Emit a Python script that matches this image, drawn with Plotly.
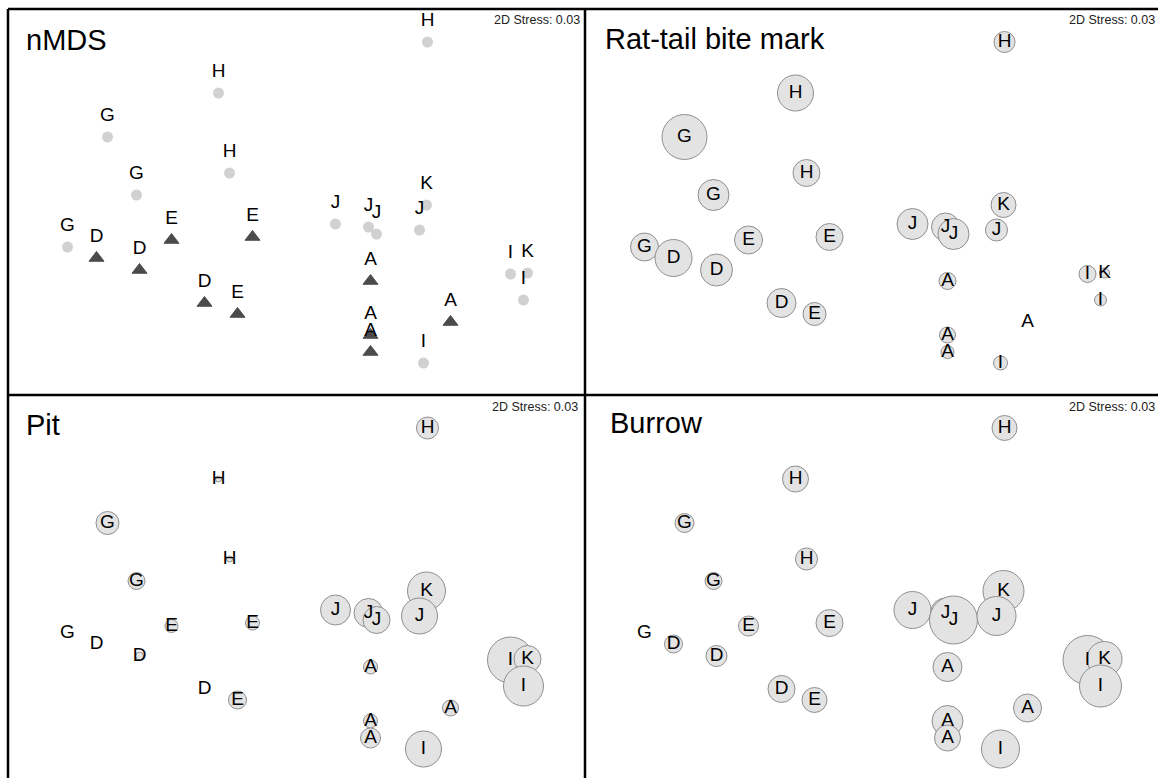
import plotly.graph_objects as go

# nMDS ordination of the 25 sampling units (shared by all four panels)
samples = ["H", "H", "G", "H", "G", "G", "D", "D", "E", "E", "D", "E",
           "J", "J", "J", "K", "J", "A", "A", "A", "A", "I", "I", "K", "I"]
nmds1 = [1.31, -0.78, -1.89, -0.67, -1.60, -2.29, -2.00, -1.57, -1.25, -0.44,
         -0.92, -0.59, 0.39, 0.72, 0.80, 1.30, 1.23, 0.74, 0.74, 0.74, 1.54,
         1.27, 2.14, 2.31, 2.27]
nmds2 = [1.60, 1.09, 0.65, 0.29, 0.07, -0.45, -0.56, -0.68, -0.38, -0.35,
         -1.01, -1.12, -0.22, -0.25, -0.32, -0.03, -0.28, -0.79, -1.33, -1.50,
         -1.20, -1.61, -0.72, -0.71, -0.98]

# groups plotted with solid triangles in the plain ordination
triangle_groups = ["A", "D", "E"]

# bubble overlays: relative abundance of each bioturbation trace
rat_tail = [2.1, 3.6, 4.5, 2.7, 3.1, 2.8, 3.7, 3.2, 2.8, 2.7, 2.9, 2.3,
            3.1, 2.8, 3.1, 2.5, 2.2, 1.7, 1.6, 1.3, 0.0, 1.4, 1.7, 1.0, 1.2]
pit = [2.2, 0.6, 2.3, 0.6, 1.7, 0.0, 0.0, 0.8, 1.3, 1.4, 0.0, 1.8,
       3.0, 2.9, 2.7, 3.8, 3.6, 1.4, 1.4, 2.0, 1.6, 3.6, 4.6, 2.7, 4.0]
burrow = [2.5, 2.6, 1.9, 2.2, 1.7, 0.0, 1.8, 2.1, 2.0, 2.7, 2.7, 2.5,
          3.7, 3.0, 4.8, 4.1, 3.9, 2.9, 3.1, 2.6, 2.8, 3.8, 4.9, 3.5, 4.2]

panel_titles = ["nMDS", "Rat-tail bite mark", "Pit", "Burrow"]
stress_text = "2D Stress: 0.03"

W, H = 1158, 778
FONT = "Liberation Sans, Arial, sans-serif"
BUBBLE_SCALE = 10  # px of diameter per abundance unit

# panel frame edges in pixels
x_left, x_mid = 8, 585
y_top, y_mid = 9, 395
px_per_unit = 100.0
panel_w, panel_h = 577, 386

fig = go.Figure()


def px_x(p):
    return p / W


def px_y(p):
    return 1 - p / H


# axis ranges that keep the same scale in every panel
x_full = [-panel_w / 2 / px_per_unit, panel_w / 2 / px_per_unit]
x_cut = [x_full[0], x_full[0] + (W - x_mid) / px_per_unit]
y_full = [-panel_h / 2 / px_per_unit, panel_h / 2 / px_per_unit]
y_cut = [y_full[1] - (H - y_mid) / px_per_unit, y_full[1]]

panels = [
    dict(xd=[px_x(x_left), px_x(x_mid)], yd=[px_y(y_mid), px_y(y_top)], xr=x_full, yr=y_full),
    dict(xd=[px_x(x_mid), 1.0], yd=[px_y(y_mid), px_y(y_top)], xr=x_cut, yr=y_full),
    dict(xd=[px_x(x_left), px_x(x_mid)], yd=[0.0, px_y(y_mid)], xr=x_full, yr=y_cut),
    dict(xd=[px_x(x_mid), 1.0], yd=[0.0, px_y(y_mid)], xr=x_cut, yr=y_cut),
]

axis_style = dict(showgrid=False, zeroline=False, showticklabels=False,
                  ticks="", showline=False, fixedrange=True)

for i, p in enumerate(panels):
    n = "" if i == 0 else str(i + 1)
    fig.layout["xaxis" + n] = dict(domain=p["xd"], range=p["xr"],
                                   anchor="y" + n, **axis_style)
    fig.layout["yaxis" + n] = dict(domain=p["yd"], range=p["yr"],
                                   anchor="x" + n, **axis_style)

# panel 1: plain ordination symbols
symbols = ["triangle-up" if s in triangle_groups else "circle" for s in samples]
colors = ["black" if s in triangle_groups else "#bdbdbd" for s in samples]
sizes = [13 if s in triangle_groups else 11 for s in samples]
line_w = [1 if s in triangle_groups else 0 for s in samples]
fig.add_trace(go.Scatter(
    x=nmds1, y=nmds2, mode="markers",
    marker=dict(symbol=symbols, color=colors, size=sizes,
                line=dict(width=line_w, color="black")),
    xaxis="x", yaxis="y", showlegend=False, hoverinfo="skip", cliponaxis=False,
))
# sample labels set just above each symbol (clear spacer marker sets the gap)
fig.add_trace(go.Scatter(
    x=nmds1, y=nmds2, mode="markers+text", text=samples,
    textposition="top center",
    textfont=dict(family=FONT, size=19, color="black"),
    marker=dict(size=16, opacity=0),
    xaxis="x", yaxis="y", showlegend=False, hoverinfo="skip", cliponaxis=False,
))

# panels 2-4: bubble overlays, label centred in each bubble
for k, vals in enumerate([rat_tail, pit, burrow], start=2):
    fig.add_trace(go.Scatter(
        x=nmds1, y=nmds2, mode="markers+text", text=samples,
        textposition="middle center",
        textfont=dict(family=FONT, size=19, color="black"),
        marker=dict(symbol="circle", color="#e3e3e3",
                    size=[v * BUBBLE_SCALE for v in vals], sizemode="diameter",
                    line=dict(color="#8f8f8f", width=1), opacity=1),
        xaxis="x" + str(k), yaxis="y" + str(k),
        showlegend=False, hoverinfo="skip", cliponaxis=False,
    ))

# frame lines
line = dict(color="black", width=2.5)
shapes = [
    dict(type="line", xref="paper", yref="paper", x0=px_x(x_left), x1=1,
         y0=px_y(y_top), y1=px_y(y_top), line=line),
    dict(type="line", xref="paper", yref="paper", x0=px_x(x_left), x1=1,
         y0=px_y(y_mid), y1=px_y(y_mid), line=line),
    dict(type="line", xref="paper", yref="paper", x0=px_x(x_left), x1=px_x(x_left),
         y0=0, y1=px_y(y_top), line=line),
    dict(type="line", xref="paper", yref="paper", x0=px_x(x_mid), x1=px_x(x_mid),
         y0=0, y1=px_y(y_top), line=line),
]

annotations = []
title_pos = [(24, 40), (603, 39), (24, 425), (608, 423)]
stress_pos = [(582, 20), (1157, 20), (580, 407), (1157, 407)]
for t, (tx, ty), (sx, sy) in zip(panel_titles, title_pos, stress_pos):
    annotations.append(dict(text=t, xref="paper", yref="paper", x=px_x(tx), y=px_y(ty),
                            xanchor="left", yanchor="middle", showarrow=False,
                            font=dict(family=FONT, size=29, color="black")))
    annotations.append(dict(text=stress_text, xref="paper", yref="paper", x=px_x(sx),
                            y=px_y(sy), xanchor="right", yanchor="middle", showarrow=False,
                            font=dict(family=FONT, size=12.5, color="#222222")))

fig.update_layout(
    width=W, height=H, margin=dict(l=0, r=0, t=0, b=0),
    paper_bgcolor="white", plot_bgcolor="white",
    shapes=shapes, annotations=annotations,
)

fig.write_html("out.html")
